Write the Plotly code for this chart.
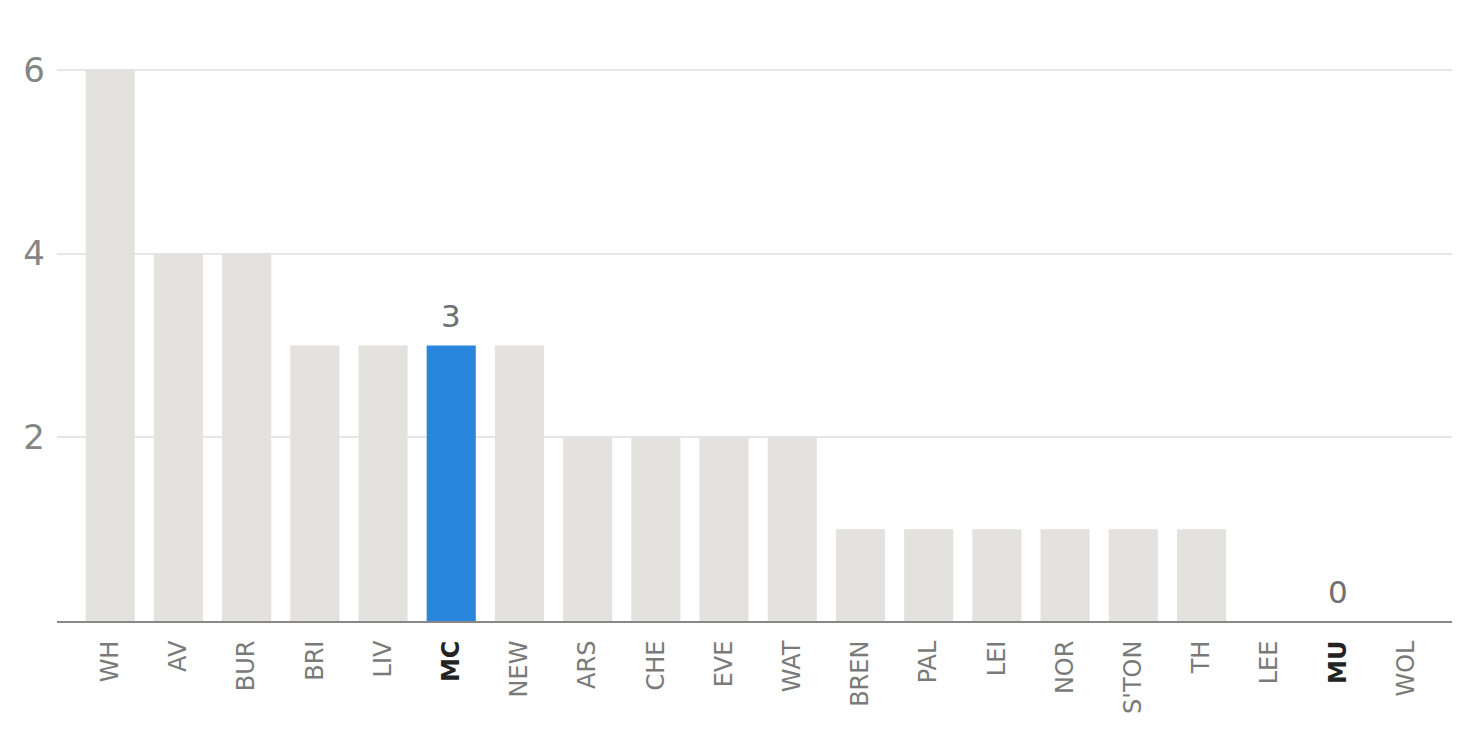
import plotly.graph_objects as go

teams = ["WH", "AV", "BUR", "BRI", "LIV", "MC", "NEW", "ARS", "CHE", "EVE",
         "WAT", "BREN", "PAL", "LEI", "NOR", "S'TON", "TH", "LEE", "MU", "WOL"]
values = [6, 4, 4, 3, 3, 3, 3, 2, 2, 2, 2, 1, 1, 1, 1, 1, 1, 0, 0, 0]
highlight = "MC"
labelled = ["MC", "MU"]
y_ticks = [2, 4, 6]

GREY = "#e3e2df"
BLUE = "#2986dc"

colors = [BLUE if t == highlight else GREY for t in teams]
ticktext = [f"<b><span style='color:#222222'>{t}</span></b>" if t in labelled else t for t in teams]

fig = go.Figure(go.Bar(
    x=list(range(len(teams))), y=values,
    marker=dict(color=colors, line=dict(width=0)),
    hoverinfo="skip",
))

for i, (t, v) in enumerate(zip(teams, values)):
    if t in labelled:
        fig.add_annotation(x=i, y=v, text=str(v), showarrow=False,
                           yshift=29, yanchor="middle",
                           font=dict(size=31, color="#707070", family="DejaVu Sans"))

fig.update_layout(
    width=1460, height=750,
    margin=dict(l=49, r=8, t=60, b=137),
    paper_bgcolor="white", plot_bgcolor="white",
    bargap=0.28, showlegend=False,
    font=dict(family="DejaVu Sans", color="#808080"),
    xaxis=dict(
        tickmode="array", tickvals=list(range(len(teams))), ticktext=ticktext,
        tickangle=-90, tickfont=dict(size=24, color="#7a7a7a"),
        range=[-0.78, 19.79], showgrid=False, zeroline=False,
        showline=True, linecolor="#888888", linewidth=2,
        ticks="", ticklabelstandoff=8,
    ),
    yaxis=dict(
        range=[0, 6.02], tickvals=y_ticks, ticktext=[str(v) for v in y_ticks],
        tickfont=dict(size=34, color="#858585"),
        showgrid=True, gridcolor="#e6e6e6", gridwidth=2,
        zeroline=False, showline=False, ticks="", ticklabelstandoff=11,
    ),
)

fig.write_html("out.html")
